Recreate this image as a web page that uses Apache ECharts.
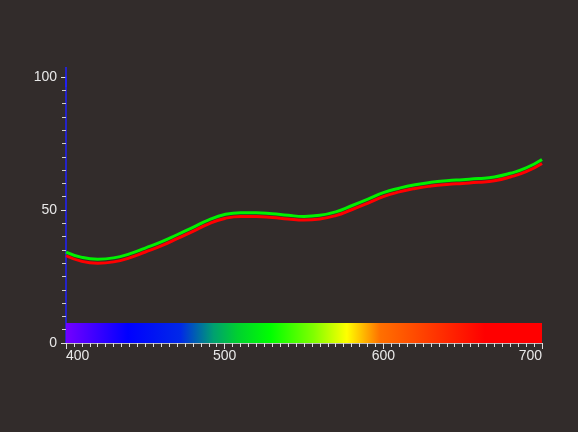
<!DOCTYPE html>
<html>
<head>
<meta charset="utf-8">
<script src="https://cdn.jsdelivr.net/npm/echarts@6/dist/echarts.min.js"></script>
<style>
html,body{margin:0;padding:0;background:#322c2b;}
#chart{width:578px;height:432px;}
</style>
</head>
<body>
<div id="chart"></div>
<script>
var wavelengths = [400,410,420,430,440,450,460,470,480,490,500,510,520,530,540,550,560,570,580,590,600,610,620,630,640,650,660,670,680,690,700];
var greenCurve = [34.2,32.2,31.5,32.0,33.5,35.7,38.0,40.7,43.5,46.3,48.3,49.0,49.0,48.6,48.0,47.6,48.0,49.3,51.6,54.0,56.5,58.2,59.5,60.4,61.0,61.4,61.8,62.4,63.8,65.8,69.0];
var redCurve = [32.8,30.7,30.0,30.5,32.0,34.2,36.5,39.2,42.0,44.8,46.8,47.6,47.6,47.2,46.6,46.2,46.6,47.9,50.1,52.5,55.0,56.8,58.1,59.0,59.6,60.0,60.4,61.0,62.4,64.4,67.5];
var spectrumRange = [400, 700];
var spectrumHeight = 7.5;
var spectrumStops = [
  [0.00, '#7400ff'],
  [0.13, '#0000ff'],
  [0.24, '#0028e8'],
  [0.31, '#00a070'],
  [0.36, '#00d030'],
  [0.43, '#00ff00'],
  [0.52, '#80ff00'],
  [0.59, '#ffff00'],
  [0.66, '#ff7000'],
  [0.80, '#ff2800'],
  [0.88, '#ff0000'],
  [1.00, '#ff0000']
];

var chart = echarts.init(document.getElementById('chart'));
function pairs(ys){ return wavelengths.map(function(x,i){ return [x, ys[i]]; }); }
var labelColor = '#e8e8e8';
chart.setOption({
  backgroundColor: '#322c2b',
  animation: false,
  grid: {left: 66, right: 36, top: 77, bottom: 89},
  xAxis: {
    type: 'value', min: 400, max: 700, interval: 100,
    axisLine: {show: true, lineStyle: {color: '#bbbbbb', width: 1}},
    axisTick: {show: true, length: 6, lineStyle: {color: '#dddddd'}},
    minorTick: {show: true, splitNumber: 20, length: 4, lineStyle: {color: '#dddddd'}},
    splitLine: {show: false},
    axisLabel: {color: labelColor, fontSize: 14, fontFamily: 'Liberation Sans, Arial', margin: 6,
      alignMinLabel: 'left', alignMaxLabel: 'right'}
  },
  yAxis: {
    type: 'value', min: 0, max: 100, interval: 50,
    axisLine: {show: true, symbol: ['none', 'rect'], symbolSize: [1.5, 20],
      lineStyle: {color: '#2020ff', width: 1.5}},
    axisTick: {show: true, length: 5, lineStyle: {color: '#dddddd'}},
    minorTick: {show: true, splitNumber: 10, length: 4, lineStyle: {color: '#cccccc'}},
    splitLine: {show: false},
    axisLabel: {color: labelColor, fontSize: 14, fontFamily: 'Liberation Sans, Arial', margin: 9}
  },
  series: [
    {
      type: 'custom',
      data: [[spectrumRange[0], spectrumRange[1], spectrumHeight]],
      renderItem: function(params, api){
        var p0 = api.coord([api.value(0), api.value(2)]);
        var p1 = api.coord([api.value(1), 0]);
        return {
          type: 'rect',
          shape: {x: p0[0], y: p0[1], width: p1[0]-p0[0], height: p1[1]-p0[1]},
          style: {
            fill: new echarts.graphic.LinearGradient(0,0,1,0, spectrumStops.map(function(s){ return {offset: s[0], color: s[1]}; }))
          }
        };
      },
      z: 1
    },
    {
      type: 'line', data: pairs(redCurve), smooth: true, showSymbol: false,
      lineStyle: {color: '#ff0000', width: 3}, z: 2
    },
    {
      type: 'line', data: pairs(greenCurve), smooth: true, showSymbol: false,
      lineStyle: {color: '#00f000', width: 3}, z: 3
    }
  ]
});
</script>
</body>
</html>
